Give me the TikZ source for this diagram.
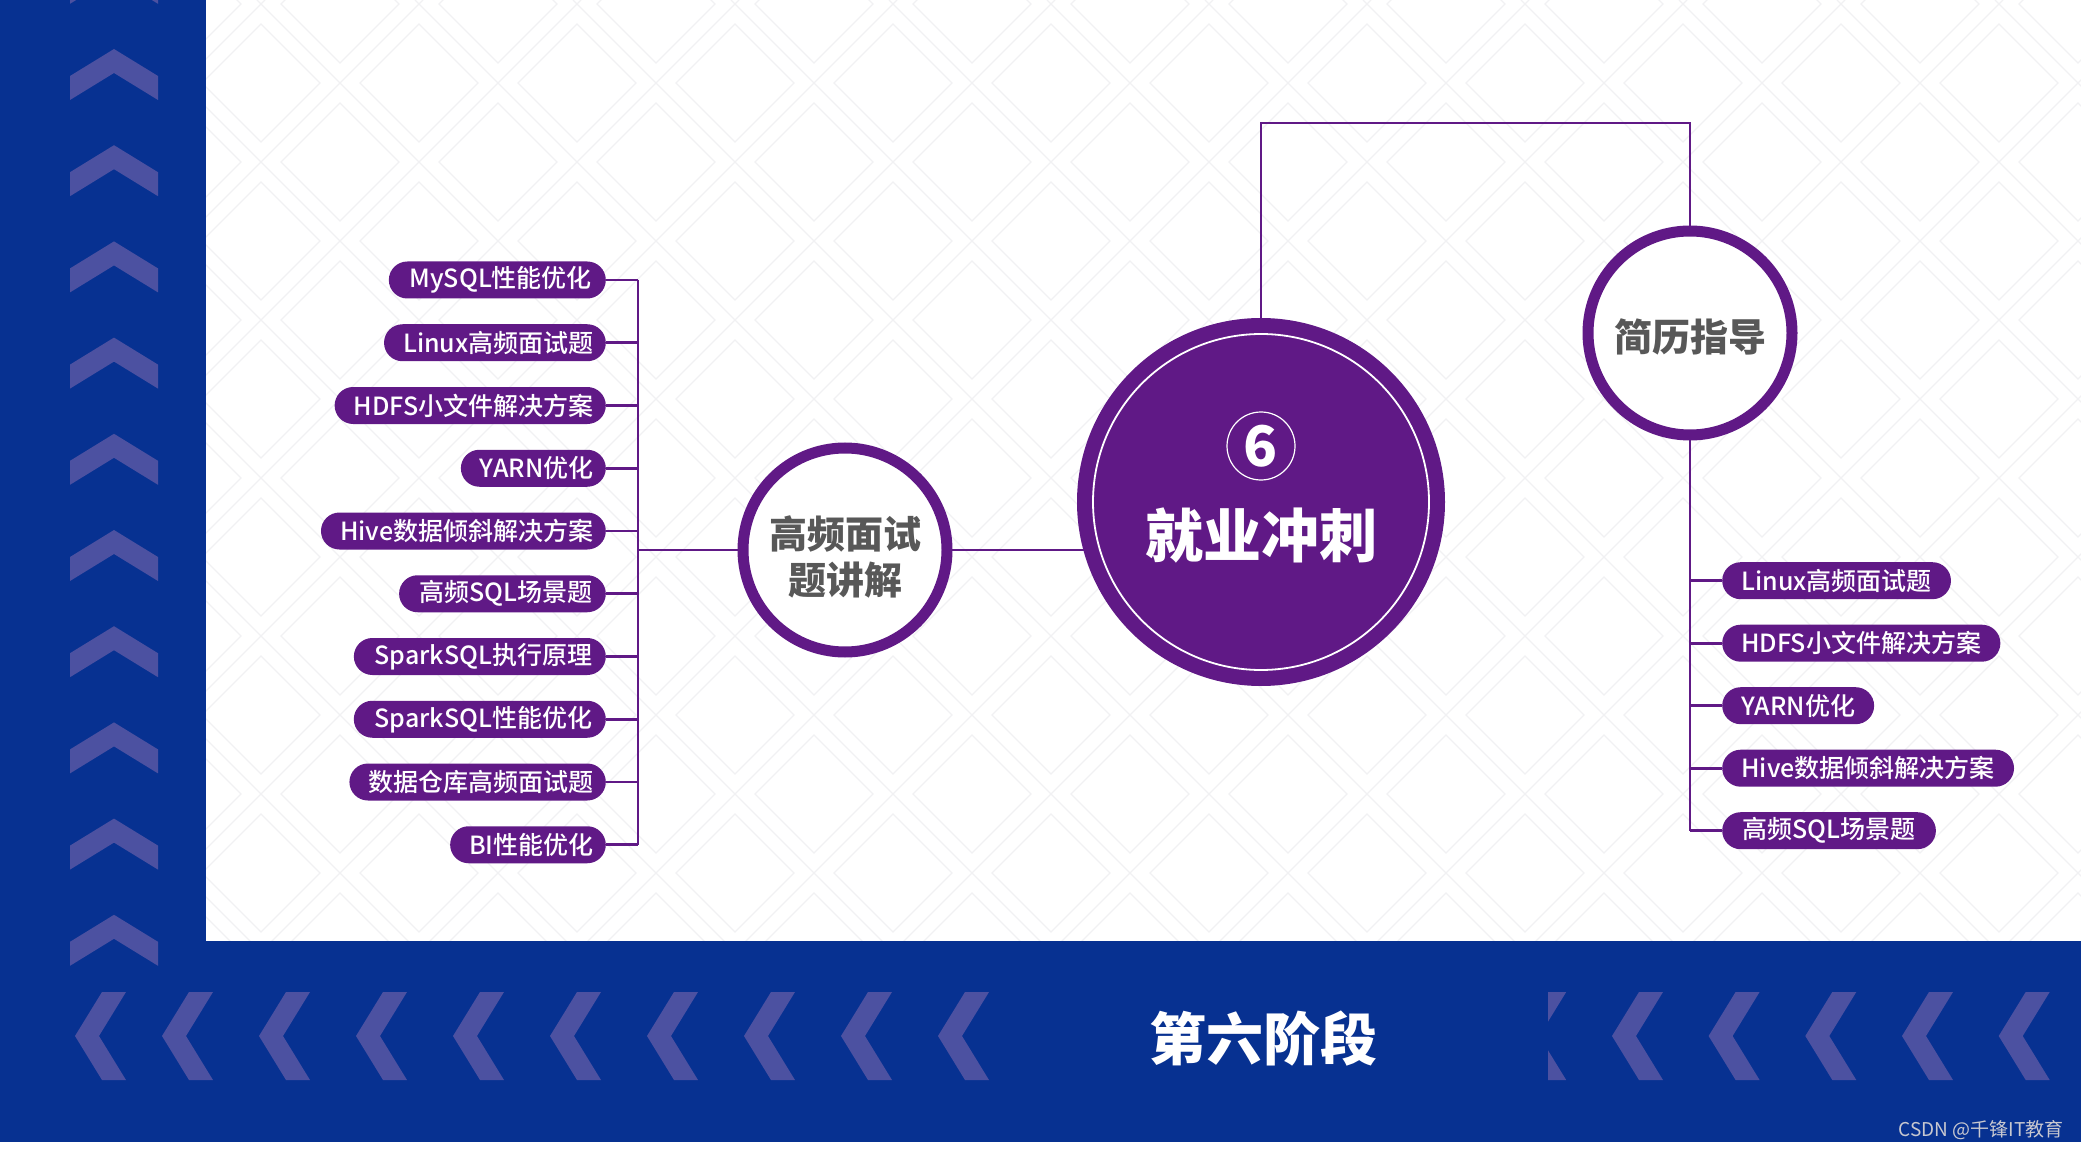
\documentclass[tikz,border=0pt]{standalone}
\usepackage{fontspec}
\setmainfont{Noto Sans CJK SC}
\IfFontExistsTF{Noto Sans CJK SC Medium}
  {\newfontfamily\pillfont{Noto Sans CJK SC Medium}}
  {\newfontfamily\pillfont{Noto Sans CJK SC}}
\usetikzlibrary{shapes.misc}
\definecolor{pur}{RGB}{96,25,134}
\definecolor{bandblue}{RGB}{7,49,145}
\definecolor{chev}{RGB}{76,81,161}
\definecolor{ctext}{RGB}{88,88,88}
\definecolor{patt}{RGB}{241,241,243}
\definecolor{wm}{RGB}{200,200,208}
\pgfdeclarelayer{back}
\pgfdeclarelayer{lines}
\pgfsetlayers{back,lines,main}
\begin{document}
\begin{tikzpicture}[x=1pt,y=-1pt,
  pill/.style={rounded rectangle, fill=pur, text=white, minimum height=37, inner xsep=15, inner ysep=0, font=\pillfont\fontsize{25}{30}\selectfont},
  ring/.style={circle, draw=pur, line width=11, fill=white, minimum size=204, inner sep=0},
  ringtext/.style={text=ctext, font=\bfseries\fontsize{38}{45}\selectfont, align=center, inner sep=0},
  conn/.style={draw=pur, line width=2},
  barline/.style={draw=pur, line width=2.6},
  chevron/.style={fill=chev},
  pattline/.style={draw=patt, line width=1.3}
]
\useasboundingbox (0,0) rectangle (2081,1150);

% ---------- background ----------
\begin{pgfonlayer}{back}
\fill[white] (0,0) rectangle (2081,1150);
\begin{scope}
  \clip (206,0) rectangle (2081,941);
  \foreach \n in {-1,...,19} \draw[pattline] (265+158*\n,0) -- (265+158*\n-1150,1150);
  \foreach \n in {-9,...,12} \draw[pattline] (257+158*\n,0) -- (257+158*\n+1150,1150);
  \foreach \i in {-1,...,11} \foreach \j in {-1,...,6} {
    \draw[pattline] (340+158*\i,4+158*\j-59) -- ++(59,59) -- ++(-59,59) -- ++(-59,-59) -- cycle;
    \draw[pattline] (419+158*\i,83+158*\j-59) -- ++(59,59) -- ++(-59,59) -- ++(-59,-59) -- cycle;
  }
\end{scope}
\fill[bandblue] (0,0) rectangle (206,941);
\fill[bandblue] (0,941) rectangle (2081,1142);
\foreach \k in {-1,...,9} {
  \fill[chevron] (114,49+96.2*\k) -- (70,76+96.2*\k) -- (70,100+96.2*\k) -- (114,73+96.2*\k) -- (158,100+96.2*\k) -- (158,76+96.2*\k) -- cycle;
}
\foreach \t in {75,162,259,356,453,550,647,744,841,938} {
  \fill[chevron] (\t,1036) -- (\t+27,992) -- (\t+51,992) -- (\t+24,1036) -- (\t+51,1080) -- (\t+27,1080) -- cycle;
}
\begin{scope}
  \clip (1548,941) rectangle (2081,1142);
  \foreach \t in {1515.2,1612,1708.6,1805.3,1902,1998.7} {
    \fill[chevron] (\t,1036) -- (\t+27,992) -- (\t+51,992) -- (\t+24,1036) -- (\t+51,1080) -- (\t+27,1080) -- cycle;
  }
\end{scope}
\end{pgfonlayer}

% ---------- nodes ----------
\coordinate (lbar) at (638,0);
\coordinate (topc) at (1261,123);

\node[circle, fill=pur, minimum size=368, inner sep=0] (main) at (1261,502) {};
\node[circle, draw=white, line width=1.8, minimum size=336, inner sep=0] (mainring) at (main.center) {};
\node[circle, draw=white, line width=1.2, minimum size=68, inner sep=0, text=white, font=\bfseries\fontsize{56}{60}\selectfont] (six) at (1261,446) {6};
\node[text=white, font=\bfseries\fontsize{58}{62}\selectfont] (maintext) at (1261,536) {就业冲刺};

\node[ring] (hf) at (845,550) {};
\node[ringtext] (hftext) at (845,557) {高频面试\\[1pt]题讲解};
\node[ring] (jl) at (1690,333) {};
\node[ringtext] (jltext) at (1690,337) {简历指导};

\foreach \t [count=\k from 0] in {MySQL性能优化,Linux高频面试题,HDFS小文件解决方案,YARN优化,Hive数据倾斜解决方案,高频SQL场景题,SparkSQL执行原理,SparkSQL性能优化,数据仓库高频面试题,BI性能优化}
  \node[pill, anchor=east] (L\k) at (606,280+62.75*\k) {\t\hspace*{-7pt}};

\foreach \t [count=\k from 0] in {Linux高频面试题,HDFS小文件解决方案,YARN优化,Hive数据倾斜解决方案,高频SQL场景题}
  \node[pill, anchor=west] (R\k) at (1722,580.7+62.5*\k) {\t};

\node[text=white, font=\bfseries\fontsize{57}{60}\selectfont] (stage) at (1263,1039) {第六阶段};
\node[text=wm, font=\fontsize{19}{22}\selectfont] (wmk) at (1981,1130) {CSDN @千锋IT教育};

% ---------- connectors ----------
\begin{pgfonlayer}{lines}
\draw[conn] (hf.center) -- (main.center |- hf.center);
\draw[conn] (hf.center) -- (hf.center -| lbar);
\draw[barline] (L0.east -| lbar) -- (L9.east -| lbar);
\foreach \k in {0,...,9} \draw[barline] (L\k.east) -- (L\k.east -| lbar);
\draw[conn] (main.center) -- (topc) -| (jl.center);
\draw[barline] (jl.center) -- (jl.center |- R4.west);
\foreach \k in {0,...,4} \draw[barline] (R\k.west) -- (R\k.west -| jl.center);
\end{pgfonlayer}
\end{tikzpicture}
\end{document}
